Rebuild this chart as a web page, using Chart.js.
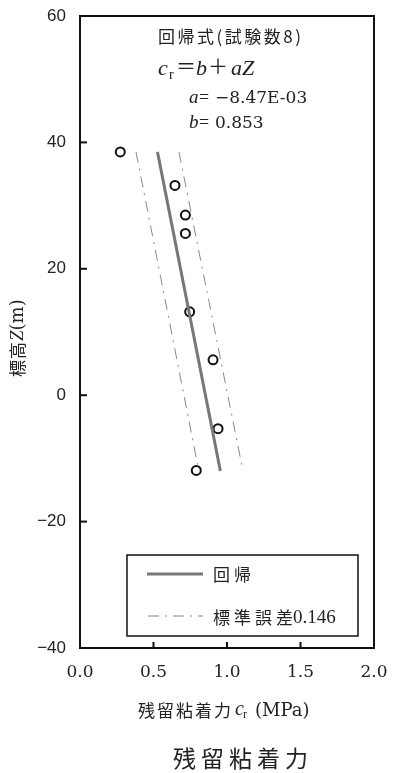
<!DOCTYPE html>
<html>
<head>
<meta charset="utf-8">
<script src="https://cdn.jsdelivr.net/npm/chart.js@4.4.1/dist/chart.umd.min.js"></script>
<style>
  html, body { margin: 0; padding: 0; background: #fff; }
  canvas { display: block; }
</style>
</head>
<body>
<canvas id="my-chart" width="393" height="773"></canvas>
<script>
// measured points (cr in MPa, elevation Z in m)
const testCr = [0.274, 0.646, 0.717, 0.717, 0.746, 0.905, 0.939, 0.791];
const testZ = [38.5, 33.2, 28.5, 25.6, 13.2, 5.6, -5.3, -11.9];
// regression line ends
const regCr = [0.527, 0.955];
const regZ = [38.5, -12];
// standard error band ends
const lowCr = [0.381, 0.800];
const highCr = [0.673, 1.100];
const bandZ = [38.5, -11];
const xTickVals = [0.5, 1.0, 1.5];
const yTickVals = [-20, 0, 20, 40];

const serif = "'DejaVu Serif', serif";
const lserif = "'Liberation Serif', serif";
const sans = "'Liberation Sans', sans-serif";
const jp = "'Noto Sans CJK JP', sans-serif";
const dashDot = [11, 6, 2, 6];

const pts = (xs, ys) => xs.map((x, i) => ({ x: x, y: ys[i] }));

// frame, inner ticks, annotation text, legend box, axis titles
const decor = {
  id: 'decor',
  afterDraw(chart) {
    const ctx = chart.ctx;
    const a = chart.chartArea;
    const xs = chart.scales.x, ys = chart.scales.y;
    ctx.save();
    ctx.strokeStyle = '#111';
    ctx.lineWidth = 2;
    ctx.strokeRect(a.left, a.top, a.right - a.left, a.bottom - a.top);
    xTickVals.forEach(v => {
      const px = xs.getPixelForValue(v);
      ctx.beginPath(); ctx.moveTo(px, a.bottom); ctx.lineTo(px, a.bottom - 6); ctx.stroke();
    });
    yTickVals.forEach(v => {
      const py = ys.getPixelForValue(v);
      ctx.beginPath(); ctx.moveTo(a.left, py); ctx.lineTo(a.left + 7, py); ctx.stroke();
    });

    ctx.fillStyle = '#222';
    ctx.textAlign = 'left';
    const at = (t, font, px, py) => { ctx.font = font; ctx.fillText(t, px, py); };

    ctx.textBaseline = 'middle';
    ctx.letterSpacing = '2.5px';
    at('回帰式(試験数8)', '17px ' + jp, 158, 37);
    ctx.letterSpacing = '0px';

    // cr = b + aZ, glyphs placed one by one
    ctx.textBaseline = 'alphabetic';
    at('c', 'italic 22px ' + lserif, 158, 75);
    at('r', '14px ' + lserif, 169, 79);
    at('＝', '20px ' + jp, 176, 74);
    at('b', 'italic 22px ' + lserif, 196, 75);
    at('＋', '20px ' + jp, 208, 74);
    at('a', 'italic 22px ' + lserif, 231, 75);
    at('Z', 'italic 22px ' + lserif, 242, 75);

    at('a', 'italic 19px ' + lserif, 189, 103);
    at('=', '18px ' + lserif, 199, 103);
    at('−8.47E-03', '17px ' + serif, 215, 103);
    at('b', 'italic 19px ' + lserif, 189, 128);
    at('=', '18px ' + lserif, 199, 128);
    at('0.853', '17px ' + serif, 215, 128);

    // legend
    ctx.textBaseline = 'middle';
    ctx.lineWidth = 1.5;
    ctx.strokeStyle = '#111';
    ctx.strokeRect(127, 555, 231, 81);
    ctx.strokeStyle = '#777';
    ctx.lineWidth = 3;
    ctx.beginPath(); ctx.moveTo(147, 574); ctx.lineTo(203, 574); ctx.stroke();
    ctx.strokeStyle = '#888';
    ctx.lineWidth = 1;
    ctx.setLineDash(dashDot);
    ctx.beginPath(); ctx.moveTo(148, 616); ctx.lineTo(203, 616); ctx.stroke();
    ctx.setLineDash([]);
    ctx.letterSpacing = '4px';
    ctx.font = '17px ' + jp;
    ctx.fillText('回帰', 213, 575);
    ctx.fillText('標準誤差', 213, 618);
    const w = ctx.measureText('標準誤差').width;
    ctx.letterSpacing = '0px';
    at('0.146', '19px ' + lserif, 209 + w, 618);

    // x title
    ctx.letterSpacing = '2px';
    at('残留粘着力', '17px ' + jp, 138, 711);
    ctx.letterSpacing = '0px';
    at('c', 'italic 20px ' + lserif, 235, 710);
    at('r', '12px ' + lserif, 243, 715);
    at('(MPa)', '18px ' + serif, 255, 711);

    // caption
    ctx.textAlign = 'center';
    ctx.letterSpacing = '5px';
    at('残留粘着力', '23px ' + jp, 243, 758);
    ctx.letterSpacing = '0px';

    // y title
    ctx.translate(18, 334);
    ctx.rotate(-Math.PI / 2);
    ctx.textAlign = 'left';
    let x = -43;
    const puty = (t, font) => {
      ctx.font = font;
      ctx.fillText(t, x, 0);
      x += ctx.measureText(t).width;
    };
    ctx.letterSpacing = '1px';
    puty('標高', '17px ' + jp);
    ctx.letterSpacing = '0px';
    puty('Z', 'italic 19px ' + lserif);
    puty('(m)', '18px ' + serif);
    ctx.restore();
  }
};

const ctx = document.getElementById('my-chart').getContext('2d');
const chart = new Chart(ctx, {
  type: 'scatter',
  data: {
    datasets: [
      {
        label: '回帰',
        data: pts(regCr, regZ),
        showLine: true,
        borderColor: '#777',
        borderWidth: 3,
        pointRadius: 0
      },
      {
        label: '標準誤差0.146',
        data: pts(lowCr, bandZ),
        showLine: true,
        borderColor: '#888',
        borderWidth: 1,
        borderDash: dashDot,
        pointRadius: 0
      },
      {
        label: '標準誤差0.146 upper',
        data: pts(highCr, bandZ),
        showLine: true,
        borderColor: '#888',
        borderWidth: 1,
        borderDash: dashDot,
        pointRadius: 0
      },
      {
        label: 'test',
        data: pts(testCr, testZ),
        showLine: false,
        pointRadius: 4.5,
        pointBorderWidth: 2,
        pointBorderColor: '#111',
        pointBackgroundColor: 'rgba(255,255,255,0)'
      }
    ]
  },
  options: {
    responsive: false,
    animation: false,
    layout: { padding: { left: 0, right: 19, top: 16, bottom: 0 } },
    plugins: {
      legend: { display: false },
      tooltip: { enabled: false },
      title: { display: false }
    },
    scales: {
      x: {
        type: 'linear',
        min: 0,
        max: 2,
        afterFit: s => { s.height = 125; s.paddingLeft = 0; s.paddingRight = 0; },
        grid: { display: false, drawTicks: false },
        border: { display: false },
        ticks: {
          stepSize: 0.5,
          padding: 14,
          color: '#222',
          font: { family: serif, size: 17 },
          callback: v => v.toFixed(1)
        }
      },
      y: {
        type: 'linear',
        min: -40,
        max: 60,
        afterFit: s => { s.width = 80; s.paddingTop = 0; s.paddingBottom = 0; },
        grid: { display: false, drawTicks: false },
        border: { display: false },
        ticks: {
          stepSize: 20,
          padding: 14,
          color: '#222',
          font: { family: sans, size: 17 },
          callback: v => (v < 0 ? '−' + Math.abs(v) : String(v))
        }
      }
    }
  },
  plugins: [decor]
});
</script>
</body>
</html>
